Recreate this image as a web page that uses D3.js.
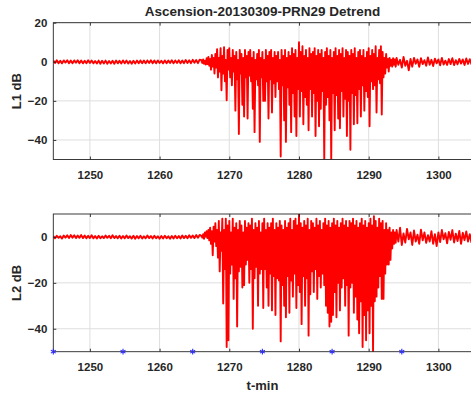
<!DOCTYPE html>
<html>
<head>
<meta charset="utf-8">
<script src="https://cdn.jsdelivr.net/npm/d3@7"></script>
<style>
  html, body { margin: 0; padding: 0; background: #fff; }
  svg { display: block; font-family: "Liberation Sans", Arial, sans-serif; }
</style>
</head>
<body>
<svg id="chart" width="471" height="394"></svg>
<script>
// Scintillation record, detrended signal power (dB) vs time (minutes)
const chartTitle = "Ascension-20130309-PRN29 Detrend";
const xTicks = [1250, 1260, 1270, 1280, 1290, 1300];
const yTicksL1 = [20, 0, -20, -40];
const yTicksL2 = [0, -20, -40];
const tStart = 1244.75, tEnd = 1304.75;

// sampling segments: quiet lead-in, scintillation burst, recovery tail
const headStart = 1244.75, headStep = 0.25;
const burstStart = 1266, burstStep = 0.125;
const tailStart = 1294, tailStep = 0.25;

// L1 detrended power (dB)
const l1Head = [
  0.7,-0.6,0.8,-0.7,0.5,-0.8,0.7,-0.4,0.8,-0.7,
  0.6,-0.8,0.7,-0.5,0.8,-0.7,0.6,-0.8,0.5,-0.7,
  0.8,-0.6,0.7,-0.8,0.4,-0.9,0.6,-1.0,0.5,-0.9,
  0.6,-1.0,0.4,-0.9,0.5,-1.0,0.6,-0.8,0.5,-0.9,
  0.7,-0.8,0.6,-0.9,0.4,-1.0,0.5,-0.9,0.6,-0.8,
  0.7,-0.7,0.6,-0.8,0.7,-0.6,0.8,-0.7,0.6,-0.8,
  0.7,-0.6,0.5,-0.8,0.7,-0.7,0.6,-0.6,0.8,-0.7,
  0.7,-0.6,0.8,-0.8,0.6,-0.7,0.9,-0.6,0.8,-0.7,
  1.0,-0.5,0.9,-0.7,1.1
];
const l1Burst = [
  0.8,-0.6,1.2,-1,0.6,-1.4,1.8,-1.2,    // 1266
  2.5,-2,1.5,-4,3.5,-2.5,2,-6,          // 1267
  4,-3,6.5,-8,2,-5,7,-14.6,             // 1268
  3,-6,7.5,-10,1,-19.7,6,-4,            // 1269
  7,-8,2,-12,6,-5,3,-25,                // 1270
  5,-9,1,-37,6,-6,4,-22,                // 1271
  2,-28,6,-8,3,-29,5,-7,                // 1272
  6,-10,2,-24,5,-36,1,-9,               // 1273
  4,-12,6,-41,2,-8,5,-20,               // 1274
  1,-20,6,-10,3,-29,5,-9,               // 1275
  6,-26,2,-11,5,-18,3,-10,              // 1276
  5,-14,1,-48.5,6,-12,3,-30,            // 1277
  6,-41,2,-13,5,-22,3,-36,              // 1278
  7,-16,4,-28,6,-38,2,-14,              // 1279
  10,-28,5,-15,8,-32,3,-18,             // 1280
  6,-22,2,-35,7,-14,4,-28,              // 1281
  5,-16,7,-38,3,-20,6,-33,              // 1282
  4,-24,6,-15,2,-50,5,-22,              // 1283
  7,-18,3,-30,6,-50,2,-16,              // 1284
  5,-35,7,-17,3,-29,6,-34,              // 1285
  4,-15,7,-28,2,-19,6,-38,              // 1286
  5,-20,3,-45,6,-16,4,-32,              // 1287
  7,-17,2,-31.5,5,-14,6,-28,            // 1288
  3,-12,6,-25,2,-15,5,-18,              // 1289
  7,-33,3,-10,6,-14,4,-12,              // 1290
  8,-26,2,-9,6,-11,8,-27,               // 1291
  5,-8,2,-6,4,-3,1.5,-5,                // 1292
  2,-2,1,-2.5,1.8,-1.5,1.2,-2.5         // 1293
];
const l1Tail = [
  2,-1.5,1,-3,2.5,-2,0.5,-4.4,1.5,-2.5,
  2,-1,1.2,-2.6,1.8,-1.2,0.8,-2,2.2,-1.5,
  1,-2.2,1.6,-0.8,1.2,-1.8,2,-1.4,0.6,-1.6,
  1.4,-1.2,1.8,-1.7,0.8,-1.3,1.5,-0.9,1.2,-1.6,
  1.7,-1.1,1.3,-1.4
];

// L2 detrended power (dB)
const l2Head = [
  0.4,-0.6,0.5,-0.4,0.3,-0.7,0.6,-0.3,0.7,-0.5,
  0.8,-0.3,0.7,-0.5,0.6,-0.4,0.8,-0.5,0.6,-0.6,
  0.5,-0.5,0.7,-0.6,0.4,-0.7,0.5,-0.6,0.3,-0.5,
  0.6,-0.4,0.5,-0.6,0.7,-0.5,0.4,-0.6,0.5,-0.7,
  0.4,-0.6,0.6,-0.5,0.3,-0.7,0.5,-0.8,0.4,-0.6,
  0.5,-0.7,0.3,-0.6,0.6,-0.5,0.4,-0.7,0.5,-0.6,
  0.3,-0.8,0.4,-0.7,0.5,-0.6,0.3,-0.8,0.4,-0.7,
  0.5,-0.6,0.4,-0.7,0.6,-0.5,0.5,-0.6,0.7,-0.4,
  0.6,-0.5,0.8,-0.3,0.9
];
const l2Burst = [
  0.5,-0.3,1.2,-0.8,2,0.2,2.5,-0.5,     // 1266
  3,-1.5,4,-3,2.5,-8,4.5,-2,            // 1267
  6,-4,3,-9,7,-15,2,-6,                 // 1268
  8,-29,3,-14,8,-48,5,-45,              // 1269
  7,-16,2,-12,8,-27,4,-18,              // 1270
  6,-39,3,-15,7,-13,5,-22,              // 1271
  2,-21,7,-12,4,-10,6,-20,              // 1272
  5,-14,8,-40,3,-18,6,-13,              // 1273
  4,-30,7,-16,2,-14,6,-31,              // 1274
  8,-14,3,-22,6,-30,4,-16,              // 1275
  6,-32,8,-17,3,-34,6,-18,              // 1276
  4,-19,7,-45.5,5,-21,3,-30,            // 1277
  7,-35,4,-17,6,-33,8,-19,              // 1278
  3,-26,7,-16,8,-31,5,-21,              // 1279
  10,-24,6,-38,4,-17,7,-30,             // 1280
  5,-18,8,-43,3,-25,7,-15,              // 1281
  6,-24,4,-14,8,-27,5,-17,              // 1282
  7,-22,3,-16,6,-21,8,-30,              // 1283
  5,-33,7,-39,4,-37,6,-34,              // 1284
  8,-24,5,-35,7,-20,4,-32,              // 1285
  6,-22,8,-18,5,-30,7,-21,              // 1286
  4,-43,7,-22,6,-20,8,-33,              // 1287
  5,-26,7,-36,4,-42,6,-28,              // 1288
  8,-48,5,-34,7,-45,4,-32,              // 1289
  6,-42,8,-30,5,-50,9,-28,              // 1290
  7,-26,4,-22,8,-17,6,-27,              // 1291
  7,-27,3,-16,6,-12,3,-12,              // 1292
  4,-10,2,-5,3,-3,2,-2.5                // 1293
];
const l2Tail = [
  3,-2,4,-3.5,1.5,-2.5,3.5,-1,2,-3.5,
  2.8,-2,1,-3,3.2,-1.5,2,-2.6,0.8,-2,
  2.5,-3,1.2,-4,2,-2.2,3,-1,1.6,-2.8,
  2.2,-1.2,3,-2.4,1.4,-1.8,2.6,-3,1.8,-1.4,
  2.4,-2,1.2,-2.6
];

// L2 marker times (plotted on the lower axis limit)
const markerTimes = [1244.75, 1254.75, 1264.75, 1274.75, 1284.75, 1294.75];

function toSeries(head, burst, tail) {
  return [
    ...head.map((v, i) => [headStart + i * headStep, v]),
    ...burst.map((v, i) => [burstStart + i * burstStep, v]),
    ...tail.map((v, i) => [tailStart + i * tailStep, v])
  ];
}
const l1 = toSeries(l1Head, l1Burst, l1Tail);
const l2 = toSeries(l2Head, l2Burst, l2Tail);

const svg = d3.select("#chart");
const ink = "#262626";
const gridColor = "#dedede";
const left = 53.3, right = 471.5;
const x = d3.scaleLinear().domain([tStart, tEnd]).range([left, right]);

svg.append("text")
  .attr("x", 262.5).attr("y", 16)
  .attr("text-anchor", "middle")
  .attr("font-size", 13.5).attr("font-weight", "bold").attr("fill", ink)
  .text(chartTitle);

function panel(id, data, yDomain, top, bottom, yTicks, yLabel, withMarkers) {
  const y = d3.scaleLinear().domain(yDomain).range([bottom, top]);
  const g = svg.append("g");

  g.append("clipPath").attr("id", id)
    .append("rect").attr("x", left).attr("y", top)
    .attr("width", right - left).attr("height", bottom - top);

  // grid
  g.append("g").selectAll("line").data(xTicks).join("line")
    .attr("x1", d => x(d)).attr("x2", d => x(d))
    .attr("y1", top).attr("y2", bottom)
    .attr("stroke", gridColor).attr("stroke-width", 1);
  g.append("g").selectAll("line").data(yTicks).join("line")
    .attr("x1", left).attr("x2", right)
    .attr("y1", d => y(d)).attr("y2", d => y(d))
    .attr("stroke", gridColor).attr("stroke-width", 1);

  // signal
  const line = d3.line().x(d => x(d[0])).y(d => y(d[1]));
  g.append("path").datum(data)
    .attr("clip-path", `url(#${id})`)
    .attr("d", line)
    .attr("fill", "none").attr("stroke", "#ff0000")
    .attr("stroke-width", 1.9).attr("stroke-linejoin", "round");

  // frame
  g.append("rect").attr("x", left).attr("y", top)
    .attr("width", right - left).attr("height", bottom - top)
    .attr("fill", "none").attr("stroke", ink).attr("stroke-width", 0.9);

  // axes with inward ticks
  g.append("g").attr("transform", `translate(0,${bottom})`)
    .call(d3.axisBottom(x).tickValues(xTicks).tickFormat(d3.format("d"))
      .tickSize(-3).tickPadding(11));
  g.append("g").attr("transform", `translate(0,${top})`)
    .call(d3.axisTop(x).tickValues(xTicks).tickSize(-3).tickFormat(""));
  g.append("g").attr("transform", `translate(${left},0)`)
    .call(d3.axisLeft(y).tickValues(yTicks).tickSize(-3).tickPadding(6));
  g.selectAll(".domain").remove();
  g.selectAll(".tick line").attr("stroke", ink).attr("stroke-width", 0.9);
  g.selectAll(".tick text").attr("fill", ink)
    .attr("font-size", 11.5).attr("font-weight", "bold")
    .attr("font-family", "Liberation Sans, Arial, sans-serif");

  g.append("text")
    .attr("transform", `translate(21,${(top + bottom) / 2}) rotate(-90)`)
    .attr("text-anchor", "middle")
    .attr("font-size", 13).attr("font-weight", "bold").attr("fill", ink)
    .text(yLabel);

  if (withMarkers) {
    const star = d3.symbol().type(d3.symbolAsterisk).size(22);
    g.append("g").selectAll("path").data(markerTimes).join("path")
      .attr("transform", d => `translate(${x(d)},${y(yDomain[0])})`)
      .attr("d", star)
      .attr("fill", "none").attr("stroke", "#2a2aff").attr("stroke-width", 1.1);
  }
  return y;
}

panel("clipL1", l1, [-50, 20], 22.7, 159.5, yTicksL1, "L1 dB", false);
panel("clipL2", l2, [-50, 10], 214, 351.7, yTicksL2, "L2 dB", true);

svg.append("text")
  .attr("x", 262.5).attr("y", 390)
  .attr("text-anchor", "middle")
  .attr("font-size", 13).attr("font-weight", "bold").attr("fill", ink)
  .text("t-min");
</script>
</body>
</html>
